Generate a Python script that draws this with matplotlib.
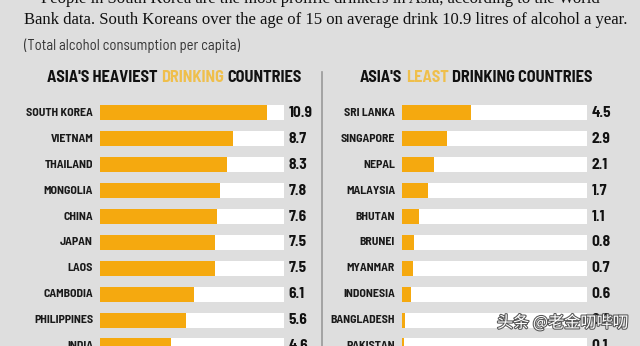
import matplotlib
matplotlib.use("Agg")
import matplotlib.pyplot as plt
import matplotlib.patheffects as pe

# data (litres per capita)
heavy_names = ["SOUTH KOREA", "VIETNAM", "THAILAND", "MONGOLIA", "CHINA",
               "JAPAN", "LAOS", "CAMBODIA", "PHILIPPINES", "INDIA"]
heavy_vals = [10.9, 8.7, 8.3, 7.8, 7.6, 7.5, 7.5, 6.1, 5.6, 4.6]

least_names = ["SRI LANKA", "SINGAPORE", "NEPAL", "MALAYSIA", "BHUTAN",
               "BRUNEI", "MYANMAR", "INDONESIA", "BANGLADESH", "PAKISTAN"]
least_vals = [4.5, 2.9, 2.1, 1.7, 1.1, 0.8, 0.7, 0.6, 0.2, 0.1]

track_max = 12

bg = "#dedede"
orange = "#f5a90f"
gold = "#efbf4c"

narrow = ["Barlow Semi Condensed", "Liberation Sans"]
serif = ["Liberation Serif", "DejaVu Serif"]

W, H = 640, 346
fig = plt.figure(figsize=(W / 100, H / 100), dpi=100)
fig.patch.set_facecolor(bg)


def px(x, y):
    return x / W, 1 - y / H


# top text
fig.text(*px(320, -1), "People in South Korea are the most prolific drinkers in Asia, according to the World",
         family=serif, fontsize=12, ha="center", va="center", color="#111111")
fig.text(*px(24, 20), "Bank data. South Koreans over the age of 15 on average drink 10.9 litres of alcohol a year.",
         family=serif, fontsize=12, ha="left", va="center", color="#111111")
fig.text(*px(24, 46), "(Total alcohol consumption per capita)",
         family=narrow, fontsize=10.5, ha="left", va="center", color="#333333")


def header(x, y, parts):
    renderer = fig.canvas.get_renderer()
    cur = x
    for s, c in parts:
        t = fig.text(*px(cur, y), s, family=narrow, fontsize=11.7, weight="bold",
                     color=c, ha="left", va="center")
        cur += t.get_window_extent(renderer=renderer).width + 3.5


header(47, 78, [("ASIA'S HEAVIEST", "#111111"), ("DRINKING", gold), ("COUNTRIES", "#111111")])
header(360, 78, [("ASIA'S", "#111111"), ("LEAST", gold), ("DRINKING COUNTRIES", "#111111")])

# separator
fig.add_artist(plt.Line2D([322 / W, 322 / W], [1 - 72 / H, 0], color="#999999", lw=1.2))


def panel(x0, x1, labels, vals):
    # first row centred at y=113, rows 25.9px apart; axes from y=100 down to the bottom
    ax = fig.add_axes([x0 / W, 0, (x1 - x0) / W, 1 - 100 / H])
    ax.set_facecolor("none")
    rows = list(range(len(vals)))
    ax.barh(rows, [track_max] * len(vals), height=0.58, color="white")
    ax.barh(rows, vals, height=0.58, color=orange)
    ax.set_xlim(0, track_max)
    ax.set_ylim(9.0, -0.5)
    for r, lab, v in zip(rows, labels, vals):
        ax.text(-0.45, r, lab, family=narrow, fontsize=8.5, weight="bold",
                ha="right", va="center", color="#1a1a1a")
        ax.text(track_max + 0.3, r, f"{v}", family=narrow, fontsize=11, weight="bold",
                ha="left", va="center", color="#111111")
    ax.axis("off")


panel(100, 284, heavy_names, heavy_vals)
panel(402, 587, least_names, least_vals)

# watermark
fig.text(*px(497, 323), "头条 @老金叨哔叨", family=["Noto Sans CJK SC", "DejaVu Sans"],
         fontsize=11.6, color="white", ha="left", va="center",
         path_effects=[pe.withStroke(linewidth=1.5, foreground="#555555")])

fig.savefig("out.png", dpi=100, facecolor=bg)
